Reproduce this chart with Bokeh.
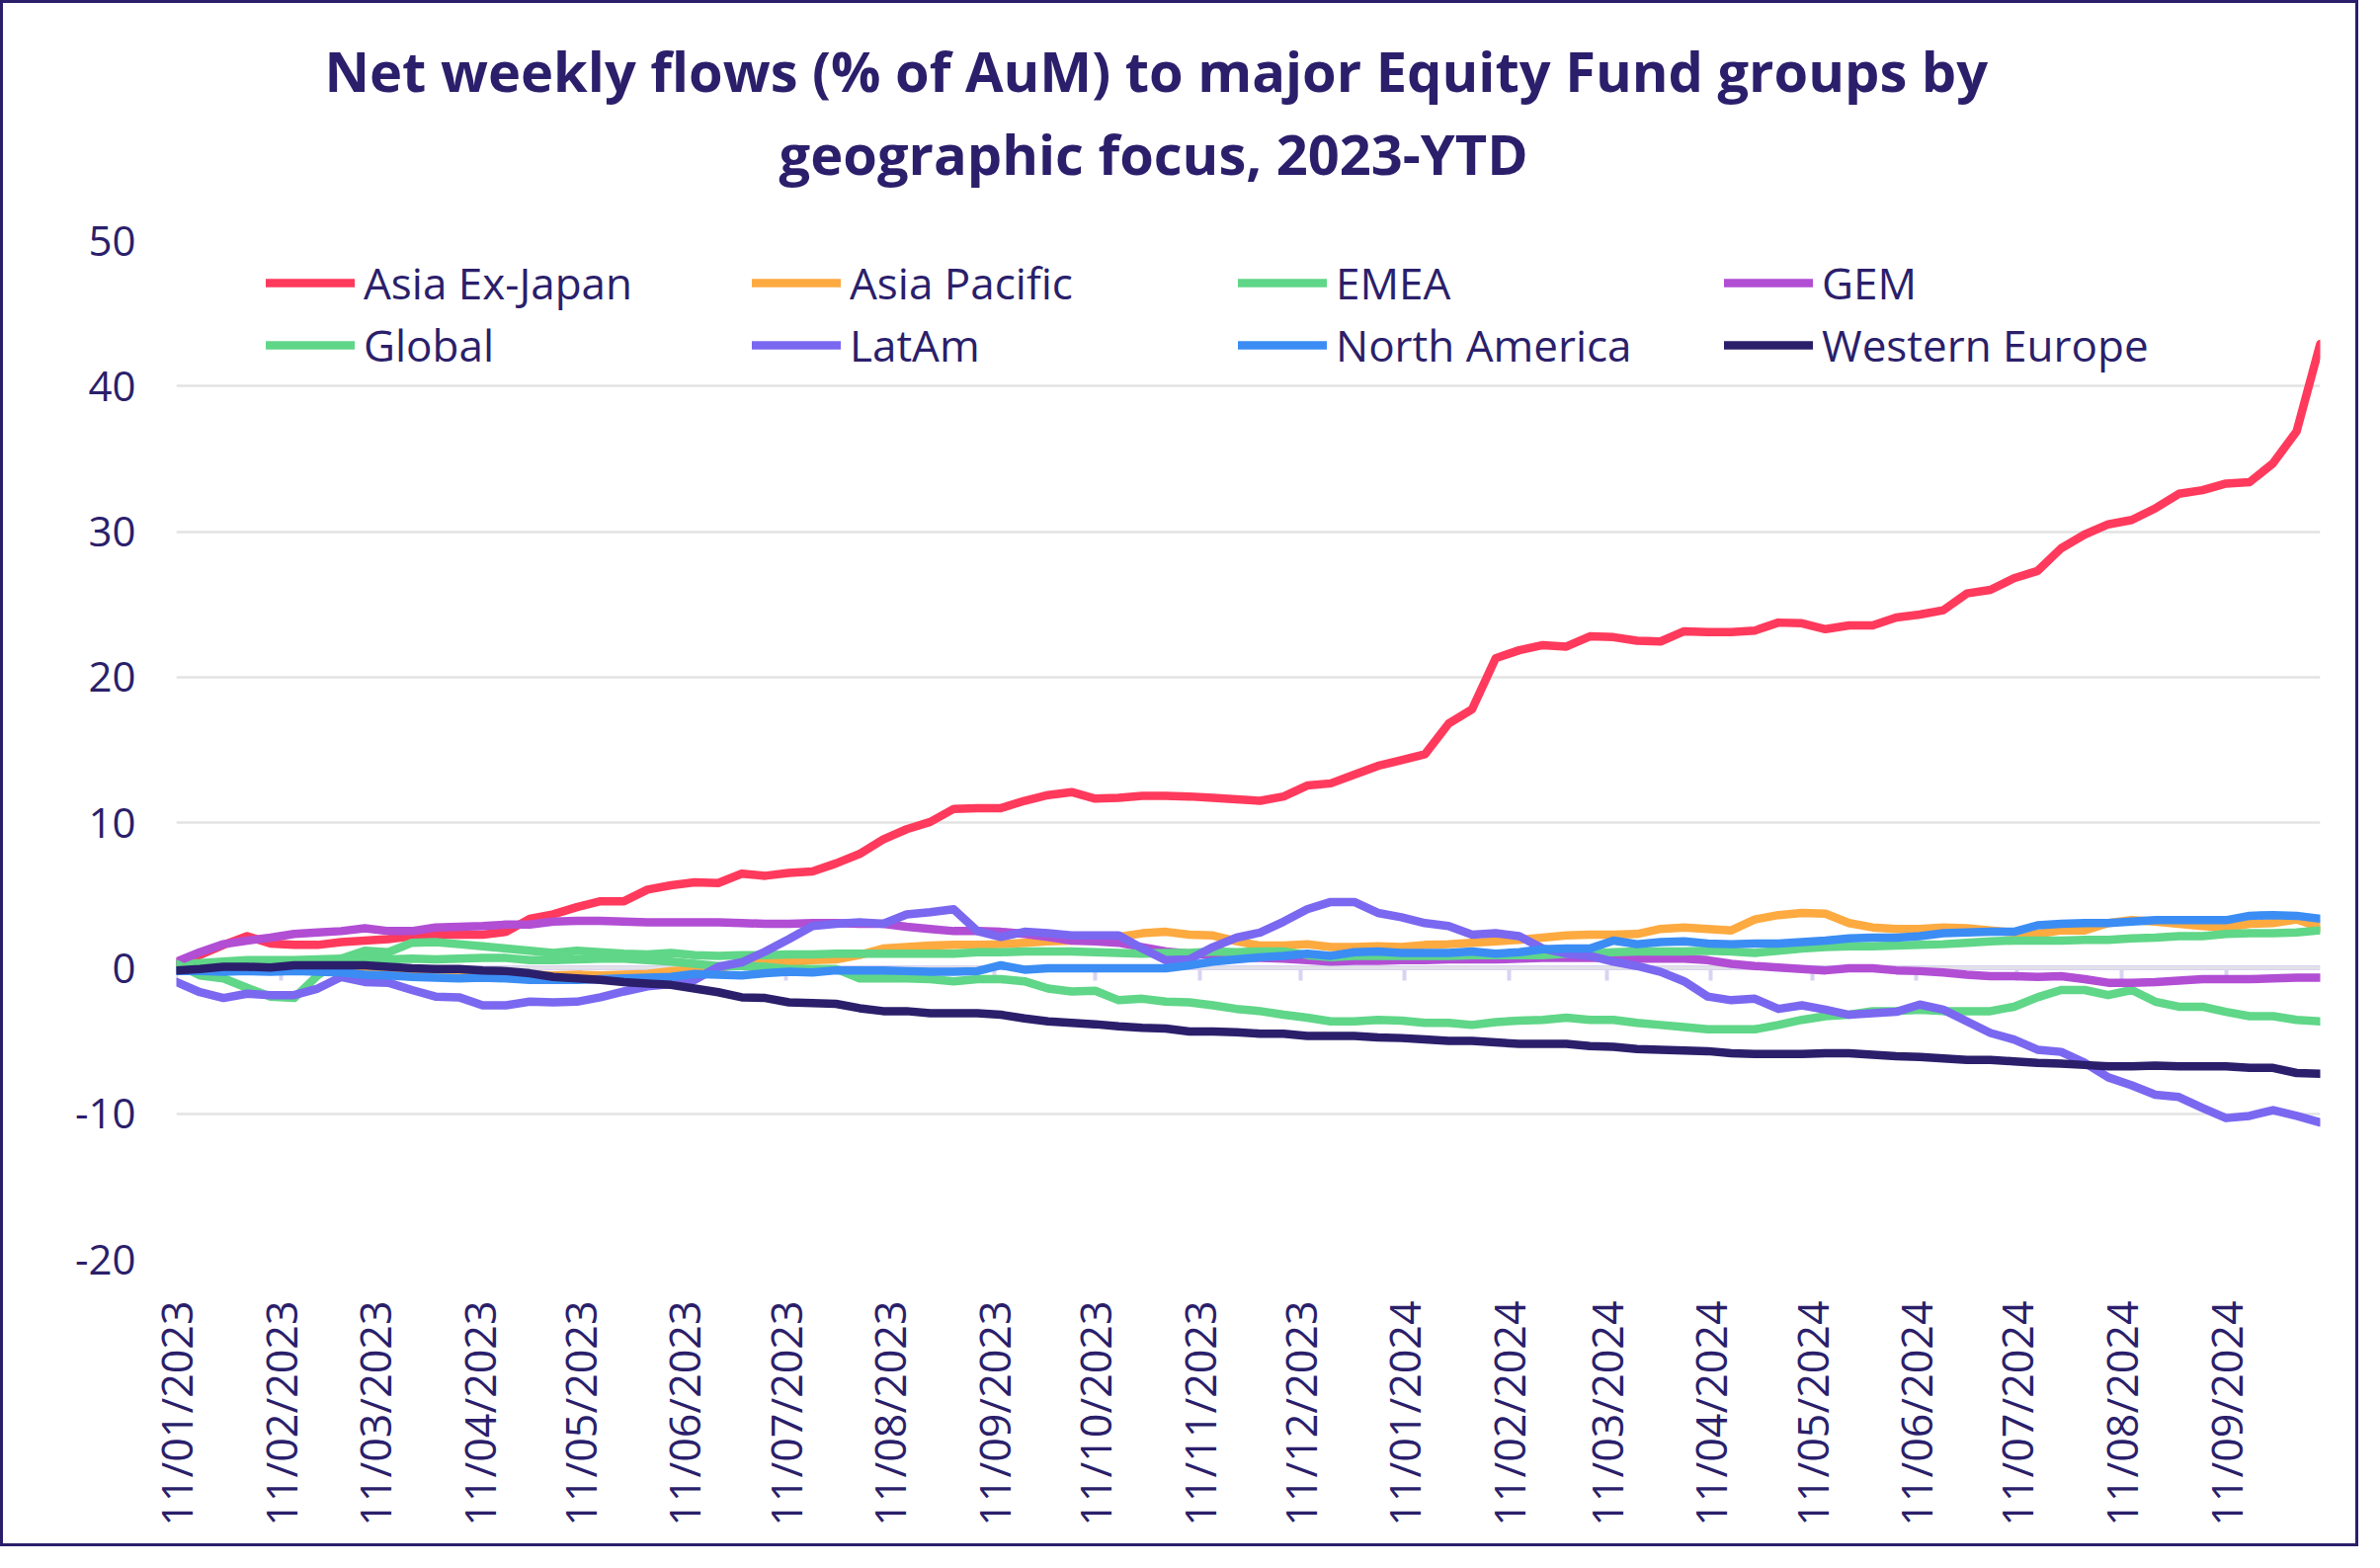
import math
import pandas as pd
from bokeh.plotting import figure
from bokeh.models import (ColumnDataSource, Legend, LegendItem, FixedTicker,
                          DatetimeTickFormatter, DatetimeAxis, Title, Range1d,
                          PrintfTickFormatter)
from bokeh.embed import file_html
from bokeh.resources import INLINE

# ---------------- data ----------------
start_date = "2023-01-11"
n_weeks = 92
dates = pd.date_range(start_date, periods=n_weeks, freq="7D")

asia_ex_japan = [
    0.4, 0.9, 1.6, 2.2, 1.7, 1.6, 1.6, 1.8, 1.9, 2.0, 2.2, 2.3, 2.3, 2.3, 2.5, 3.4, 3.7, 4.2, 4.6, 4.6, 5.4, 5.7, 5.9, 5.85,
    6.5, 6.35, 6.55, 6.65, 7.2, 7.85, 8.85, 9.55, 10.05, 10.95, 11.0, 11.0, 11.5, 11.9, 12.1, 11.65, 11.7, 11.85, 11.85, 11.8, 11.7, 11.6,
    11.5, 11.8, 12.55, 12.7, 13.3, 13.9, 14.3, 14.7, 16.8, 17.8, 21.3, 21.85, 22.2, 22.1, 22.8, 22.75, 22.5, 22.45, 23.15, 23.1, 23.1, 23.2, 23.75,
    23.7, 23.3, 23.55, 23.55, 24.1, 24.3, 24.6, 25.75, 26.0, 26.8, 27.3, 28.85, 29.8, 30.5, 30.8, 31.6, 32.6, 32.85, 33.3, 33.4, 34.7, 36.9, 42.9]

asia_pacific = [
    0.0, 0.0, -0.1, -0.1, -0.2, -0.2, -0.2, -0.2, -0.3, -0.3, -0.3, -0.3, -0.35, -0.4, -0.4, -0.45, -0.5, -0.45, -0.5, -0.45, -0.4, -0.2, -0.1,
    0.0, 0.3, 0.55, 0.4, 0.55, 0.6, 0.9, 1.35, 1.45, 1.55, 1.6, 1.6, 1.65, 1.75, 1.85, 1.9, 1.95, 2.15, 2.4, 2.5, 2.3, 2.25, 1.85,
    1.55, 1.55, 1.65, 1.45, 1.45, 1.5, 1.45, 1.6, 1.65, 1.75, 1.85, 1.95, 2.1, 2.25, 2.3, 2.3, 2.35, 2.7, 2.8, 2.7, 2.6, 3.35, 3.65,
    3.8, 3.75, 3.1, 2.8, 2.7, 2.7, 2.8, 2.75, 2.6, 2.45, 2.35, 2.6, 2.6, 3.1, 3.3, 3.2, 3.05, 2.9, 2.8, 3.05, 3.1, 3.35, 2.8]

emea = [
    0.3, 0.35, 0.45, 0.55, 0.55, 0.55, 0.6, 0.65, 0.65, 0.6, 0.65, 0.6, 0.65, 0.7, 0.7, 0.55, 0.55, 0.6, 0.65, 0.65, 0.55, 0.45, 0.3, 0.15,
    0.15, 0.1, -0.05, -0.05, -0.05, -0.7, -0.7, -0.7, -0.75, -0.9, -0.75, -0.75, -0.9, -1.4, -1.6, -1.55, -2.2, -2.1, -2.3, -2.35, -2.55, -2.8,
    -2.95, -3.2, -3.4, -3.65, -3.65, -3.55, -3.6, -3.75, -3.75, -3.9, -3.7, -3.6, -3.55, -3.4, -3.55, -3.55, -3.75, -3.9, -4.05, -4.2, -4.2, -4.2, -3.9,
    -3.55, -3.3, -3.2, -2.95, -2.95, -2.85, -2.95, -2.95, -2.95, -2.65, -2.0, -1.5, -1.5, -1.85, -1.5, -2.3, -2.65, -2.65, -3.0, -3.3, -3.3, -3.55, -3.65]

gem = [
    0.45, 1.1, 1.65, 1.9, 2.1, 2.35, 2.45, 2.55, 2.75, 2.55, 2.55, 2.8, 2.85, 2.9, 3.0, 3.0, 3.2, 3.25, 3.25, 3.2, 3.15, 3.15, 3.15, 3.15,
    3.1, 3.05, 3.05, 3.1, 3.1, 3.05, 3.05, 2.85, 2.7, 2.55, 2.55, 2.5, 2.35, 2.15, 1.9, 1.85, 1.75, 1.45, 1.15, 1.0, 0.9, 0.75,
    0.7, 0.65, 0.55, 0.45, 0.5, 0.5, 0.55, 0.55, 0.6, 0.6, 0.6, 0.65, 0.7, 0.7, 0.7, 0.7, 0.65, 0.65, 0.65, 0.55, 0.3, 0.15, 0.05,
    -0.05, -0.15, 0.0, 0.0, -0.15, -0.2, -0.3, -0.45, -0.55, -0.55, -0.6, -0.55, -0.75, -1.0, -1.0, -0.95, -0.85, -0.75, -0.75, -0.75, -0.7, -0.65, -0.65]

global_ = [
    0.3, -0.5, -0.7, -1.35, -1.95, -2.05, -0.5, 0.65, 1.2, 1.1, 1.75, 1.8, 1.65, 1.5, 1.35, 1.2, 1.05, 1.2, 1.1, 1.0, 0.95, 1.05, 0.9, 0.85,
    0.9, 0.9, 0.95, 0.95, 1.0, 1.0, 1.0, 1.0, 1.0, 1.0, 1.1, 1.1, 1.15, 1.15, 1.15, 1.1, 1.05, 1.0, 1.05, 1.05, 1.15, 1.1,
    1.15, 1.15, 0.9, 0.75, 0.85, 0.85, 0.85, 0.85, 0.85, 0.9, 0.9, 0.9, 0.9, 1.0, 1.0, 1.1, 1.15, 1.15, 1.15, 1.2, 1.15, 1.05, 1.2,
    1.35, 1.45, 1.5, 1.5, 1.55, 1.6, 1.65, 1.75, 1.85, 1.9, 1.9, 1.9, 1.95, 1.95, 2.05, 2.1, 2.2, 2.2, 2.35, 2.4, 2.4, 2.45, 2.6]

latam = [
    -0.95, -1.65, -2.05, -1.75, -1.85, -1.85, -1.4, -0.6, -0.95, -1.0, -1.5, -1.95, -2.0, -2.55, -2.55, -2.3, -2.35, -2.3, -2.0, -1.6, -1.25, -1.1, -0.8, 0.1,
    0.4, 1.15, 2.0, 2.9, 3.05, 3.15, 3.05, 3.7, 3.85, 4.05, 2.55, 2.15, 2.5, 2.4, 2.25, 2.25, 2.25, 1.35, 0.55, 0.6, 1.45, 2.1,
    2.45, 3.2, 4.05, 4.55, 4.55, 3.8, 3.5, 3.1, 2.9, 2.3, 2.4, 2.2, 1.35, 1.0, 0.85, 0.45, 0.15, -0.25, -0.9, -1.95, -2.2, -2.1, -2.8,
    -2.55, -2.85, -3.2, -3.1, -3.0, -2.5, -2.85, -3.65, -4.45, -4.9, -5.6, -5.75, -6.5, -7.5, -8.05, -8.7, -8.85, -9.6, -10.3, -10.15, -9.75, -10.15, -10.6]

north_america = [
    -0.2, -0.2, -0.25, -0.2, -0.25, -0.2, -0.25, -0.3, -0.45, -0.5, -0.6, -0.65, -0.7, -0.65, -0.7, -0.8, -0.8, -0.8, -0.75, -0.7, -0.65, -0.6, -0.4, -0.45,
    -0.5, -0.35, -0.25, -0.3, -0.15, -0.15, -0.15, -0.2, -0.25, -0.25, -0.2, 0.2, -0.1, 0.0, 0.0, 0.0, 0.0, 0.0, 0.0, 0.2, 0.45, 0.6,
    0.75, 0.85, 1.0, 0.85, 1.1, 1.15, 1.05, 1.05, 1.05, 1.15, 1.0, 1.1, 1.3, 1.35, 1.35, 1.9, 1.65, 1.8, 1.85, 1.7, 1.65, 1.7, 1.7,
    1.8, 1.9, 2.05, 2.1, 2.1, 2.2, 2.4, 2.45, 2.5, 2.5, 2.95, 3.05, 3.1, 3.1, 3.2, 3.3, 3.3, 3.3, 3.3, 3.6, 3.65, 3.6, 3.4]

western_europe = [
    -0.15, -0.05, 0.1, 0.1, 0.05, 0.2, 0.2, 0.2, 0.2, 0.1, 0.0, -0.05, -0.05, -0.15, -0.2, -0.35, -0.6, -0.7, -0.8, -0.95, -1.05, -1.15, -1.4, -1.65,
    -2.0, -2.05, -2.35, -2.4, -2.45, -2.75, -2.95, -2.95, -3.1, -3.1, -3.1, -3.2, -3.45, -3.65, -3.75, -3.85, -4.0, -4.1, -4.15, -4.35, -4.35, -4.4,
    -4.5, -4.5, -4.65, -4.65, -4.65, -4.75, -4.8, -4.9, -5.0, -5.0, -5.1, -5.2, -5.2, -5.2, -5.35, -5.4, -5.55, -5.6, -5.65, -5.7, -5.85, -5.9, -5.9,
    -5.9, -5.85, -5.85, -5.95, -6.05, -6.1, -6.2, -6.3, -6.3, -6.4, -6.5, -6.55, -6.65, -6.75, -6.75, -6.7, -6.75, -6.75, -6.75, -6.85, -6.85, -7.2, -7.25]

series_names = ["Asia Ex-Japan", "Asia Pacific", "EMEA", "GEM",
                "Global", "LatAm", "North America", "Western Europe"]
series_values = [asia_ex_japan, asia_pacific, emea, gem,
                 global_, latam, north_america, western_europe]
series_colors = ["#FF3A5C", "#FDAA41", "#60D688", "#B14ED4",
                 "#60D688", "#7A68F0", "#3B8DF4", "#2B1F6B"]

tick_labels = ["11/01/2023", "11/02/2023", "11/03/2023", "11/04/2023", "11/05/2023",
               "11/06/2023", "11/07/2023", "11/08/2023", "11/09/2023", "11/10/2023",
               "11/11/2023", "11/12/2023", "11/01/2024", "11/02/2024", "11/03/2024",
               "11/04/2024", "11/05/2024", "11/06/2024", "11/07/2024", "11/08/2024",
               "11/09/2024"]
y_ticks = [-20, -10, 0, 10, 20, 30, 40, 50]

title_lines = ["Net weekly flows (% of AuM) to major Equity Fund groups by",
               "geographic focus, 2023-YTD"]

# ---------------- build ----------------
NAVY = "#2B1F6B"
FONT = "Open Sans"

tick_ms = [pd.to_datetime(t, format="%d/%m/%Y").timestamp() * 1000 for t in tick_labels]

data = {"date": dates}
cols = []
for i, vals in enumerate(series_values):
    assert len(vals) == n_weeks, (series_names[i], len(vals))
    c = "s%d" % i
    data[c] = vals
    cols.append(c)
src = ColumnDataSource(data=data)

p = figure(width=2387, height=1565, x_axis_type="datetime",
           x_range=Range1d(dates[0], dates[-1]), y_range=Range1d(-20, 50),
           output_backend="svg", toolbar_location=None,
           min_border_left=175, min_border_right=42,
           min_border_top=240, min_border_bottom=294)
p.styles = {"border": "3px solid " + NAVY}
p.outline_line_color = None
p.background_fill_color = "white"
p.border_fill_color = "white"

# grid
p.xgrid.visible = False
p.ygrid.grid_line_color = "#E3E3E3"
p.ygrid.grid_line_width = 2.5

# y axis
p.yaxis.ticker = FixedTicker(ticks=y_ticks)
p.yaxis.formatter = PrintfTickFormatter(format="%d")
p.yaxis.axis_line_color = None
p.yaxis.major_tick_line_color = None
p.yaxis.minor_tick_line_color = None
p.yaxis.major_label_standoff = 35
p.yaxis.major_label_text_font = FONT
p.yaxis.major_label_text_font_size = "42px"
p.yaxis.major_label_text_color = NAVY

# x axis (labels at bottom)
fmt = "%d/%m/%Y"
formatter = DatetimeTickFormatter(microseconds=fmt, milliseconds=fmt, seconds=fmt,
                                  minsec=fmt, minutes=fmt, hourmin=fmt, hours=fmt,
                                  days=fmt, months=fmt, years=fmt)
p.xaxis.ticker = FixedTicker(ticks=tick_ms)
p.xaxis.formatter = formatter
p.xaxis.axis_line_color = None
p.xaxis.major_tick_line_color = None
p.xaxis.minor_tick_line_color = None
p.xaxis.major_label_orientation = math.pi / 2
p.xaxis.major_label_standoff = 36
p.xaxis.major_label_text_font = FONT
p.xaxis.major_label_text_font_size = "43px"
p.xaxis.major_label_text_color = NAVY

# zero line axis with ticks pointing down
zax = DatetimeAxis(fixed_location=0, ticker=FixedTicker(ticks=tick_ms), formatter=formatter,
                   axis_line_color="#D9D3F3", axis_line_width=5,
                   major_tick_line_color="#D9D3F3", major_tick_line_width=4,
                   major_tick_in=0, major_tick_out=13,
                   minor_tick_line_color=None,
                   major_label_text_color=None, major_label_text_font_size="1px",
                   major_label_standoff=0, level="underlay")
p.add_layout(zax, "below")

renderers = []
for c, col in zip(cols, series_colors):
    r = p.line(x="date", y=c, source=src, line_color=col, line_width=8.5,
               line_cap="round", line_join="round")
    renderers.append(r)

legend = Legend(items=[LegendItem(label=n, renderers=[r]) for n, r in zip(series_names, renderers)],
                location=(91, 895), orientation="horizontal", ncols=4,
                glyph_width=90, glyph_height=60, label_height=60, label_width=390,
                label_standoff=9, spacing=3, padding=0, margin=0,
                border_line_color=None, background_fill_alpha=0,
                label_text_font=FONT, label_text_font_size="44px", label_text_color=NAVY)
p.add_layout(legend)

# titles (stacked above the frame: spacer, line 2, line 1)
TITLE_SIZE = 56
spacer = Title(text=" ", text_font_size="1px", standoff=48)
t2 = Title(text=title_lines[1], align="left", offset=610, standoff=0,
           text_font=FONT, text_font_style="bold", text_font_size="%dpx" % TITLE_SIZE,
           text_color=NAVY)
t1 = Title(text=title_lines[0], align="left", offset=150, standoff=11,
           text_font=FONT, text_font_style="bold", text_font_size="%dpx" % TITLE_SIZE,
           text_color=NAVY)
p.add_layout(spacer, "above")
p.add_layout(t2, "above")
p.add_layout(t1, "above")

open("out.html", "w").write(file_html(p, INLINE))
